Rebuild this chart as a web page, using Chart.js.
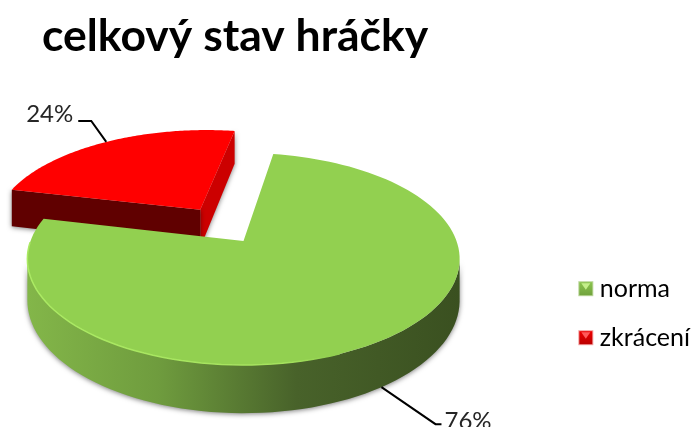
<!DOCTYPE html>
<html lang="cs">
<head>
<meta charset="utf-8">
<title>celkový stav hráčky</title>
<script src="https://cdn.jsdelivr.net/npm/chart.js@4"></script>
<style>
    html, body { margin: 0; padding: 0; background: #fff; }
    canvas { display: block; }
</style>
</head>
<body>
<canvas id="pieChart" width="692" height="427"></canvas>
<script>
// data
const categories = ['norma', 'zkrácení'];
const values = [76, 24];
const sliceColors = ['#92D050', '#FF0000'];
const titleText = 'celkový stav hráčky';

// 3D look of the pie: ground circle -> screen with a little perspective
const view = { cx: 243.5, cy: 241, a: 213, b: 102.9, k: 0.17, depth: 40 };
const explode = [0, 0.385];
// where the value label sits relative to its slice anchor, plus the elbow of the leader line
const labelPos = [
    { dx: 63, dy: 34, elbowX: 54, elbowY: 37, endX: 60 },
    { dx: -33, dy: -28, elbowX: -15, elbowY: -21, endX: -28 }
];

function project(X, Y, drop) {
    const w = 1 - view.k * Y;
    return {
        x: view.cx + view.a * X / w,
        y: view.cy + view.b * Y / w + (drop ? view.depth / w : 0)
    };
}

// point on the rim (or the hub when rim = 0) of a slice
function slicePoint(arc, i, angle, rim, drop) {
    const mid = (arc.startAngle + arc.endAngle) / 2;
    const X = rim * Math.cos(angle) + explode[i] * Math.cos(mid);
    const Y = rim * Math.sin(angle) + explode[i] * Math.sin(mid);
    return project(X, Y, drop);
}

function rimPoints(arc, i, drop) {
    const pts = [];
    const steps = 120;
    for (let s = 0; s <= steps; s++) {
        const t = arc.startAngle + (arc.endAngle - arc.startAngle) * s / steps;
        pts.push(slicePoint(arc, i, t, 1, drop));
    }
    return pts;
}

function tracePoints(ctx, pts) {
    ctx.beginPath();
    pts.forEach((p, n) => n ? ctx.lineTo(p.x, p.y) : ctx.moveTo(p.x, p.y));
    ctx.closePath();
}

function fillShape(ctx, pts, fill, shadow) {
    ctx.save();
    if (shadow) {
        ctx.shadowColor = 'rgba(0, 0, 0, 0.5)';
        ctx.shadowBlur = 5;
        ctx.shadowOffsetY = 1;
    }
    ctx.fillStyle = fill;
    tracePoints(ctx, pts);
    ctx.fill();
    ctx.restore();
}

// side wall along a radial cut of the slice
function radialWall(arc, i, angle) {
    return [
        slicePoint(arc, i, angle, 0, false),
        slicePoint(arc, i, angle, 1, false),
        slicePoint(arc, i, angle, 1, true),
        slicePoint(arc, i, angle, 0, true)
    ];
}

function drawRedSlice(ctx, arc, i) {
    const top = [slicePoint(arc, i, 0, 0, false)].concat(rimPoints(arc, i, false));
    fillShape(ctx, radialWall(arc, i, arc.endAngle), '#CC0000', true);
    fillShape(ctx, radialWall(arc, i, arc.startAngle), '#600000', true);
    fillShape(ctx, top, sliceColors[i], false);
}

function drawGreenSlice(ctx, arc, i) {
    const upper = rimPoints(arc, i, false);
    const lower = rimPoints(arc, i, true);
    // only the near half of the wall shows, and only that half throws a shadow
    const nearY = view.cy + 16;
    const nearUpper = upper.filter(p => p.y >= nearY);
    const nearLower = lower.filter((p, n) => upper[n].y >= nearY);
    const wallFill = ctx.createLinearGradient(28, 0, 461, 0);
    wallFill.addColorStop(0, '#83B649');
    wallFill.addColorStop(0.3, '#6F9C3E');
    wallFill.addColorStop(0.62, '#48622A');
    wallFill.addColorStop(1, '#3A5020');
    fillShape(ctx, nearUpper.concat(nearLower.slice().reverse()), wallFill, true);

    fillShape(ctx, [slicePoint(arc, i, 0, 0, false)].concat(upper), sliceColors[i], false);

    // light rim on the near edge
    const rimFill = ctx.createLinearGradient(28, 0, 330, 0);
    rimFill.addColorStop(0, '#ABEA63');
    rimFill.addColorStop(0.85, '#A5E25E');
    rimFill.addColorStop(1, '#92D050');
    ctx.save();
    ctx.strokeStyle = rimFill;
    ctx.lineWidth = 1.5;
    ctx.beginPath();
    upper.filter(p => p.x < 340 && p.y > 240).forEach((p, n) => n ? ctx.lineTo(p.x, p.y) : ctx.moveTo(p.x, p.y));
    ctx.stroke();
    ctx.restore();
}

// value labels with their leader lines
function drawValueLabels(chart, arcs) {
    const ctx = chart.ctx;
    const total = values.reduce((a, b) => a + b, 0);
    arcs.forEach((arc, i) => {
        const mid = (arc.startAngle + arc.endAngle) / 2;
        const anchor = slicePoint(arc, i, mid, 1, i === 0);
        const pos = labelPos[i];
        ctx.save();
        ctx.strokeStyle = '#000';
        ctx.lineWidth = 2;
        ctx.beginPath();
        ctx.moveTo(anchor.x, anchor.y);
        ctx.lineTo(anchor.x + pos.elbowX, anchor.y + pos.elbowY);
        ctx.lineTo(anchor.x + pos.endX, anchor.y + pos.elbowY);
        ctx.stroke();
        ctx.fillStyle = '#262626';
        ctx.font = '24px Lato';
        ctx.textBaseline = 'middle';
        ctx.textAlign = i === 0 ? 'left' : 'right';
        ctx.fillText(Math.round(values[i] / total * 100) + '%', anchor.x + pos.dx, anchor.y + pos.dy);
        ctx.restore();
    });
}

const pie3d = {
    id: 'pie3d',
    // replaces the flat arcs; angles still come from the arc elements
    beforeDatasetsDraw(chart) {
        const ctx = chart.ctx;
        const arcs = chart.getDatasetMeta(0).data;
        drawRedSlice(ctx, arcs[1], 1);
        drawGreenSlice(ctx, arcs[0], 0);
        drawValueLabels(chart, arcs);
        return false;
    },
    afterDraw(chart) {
        // legend squares with their bevel, the built-in box is left transparent
        const ctx = chart.ctx;
        const size = 15;
        chart.legend.legendHitBoxes.forEach((box, i) => {
            const x = box.left, y = box.top + (box.height - size) / 2;
            const fill = ctx.createLinearGradient(0, y, 0, y + size);
            fill.addColorStop(0, i === 0 ? '#8CC64E' : '#F00000');
            fill.addColorStop(1, i === 0 ? '#6FA03C' : '#B80000');
            ctx.save();
            ctx.fillStyle = i === 0 ? '#BBD69A' : '#F2A0A0';
            ctx.fillRect(x, y, size, size);
            ctx.fillStyle = fill;
            ctx.fillRect(x + 1, y + 1, size - 2, size - 2);
            ctx.fillStyle = i === 0 ? '#C4EE8A' : '#FF5A5A';
            ctx.beginPath();
            ctx.moveTo(x + 3, y + 2);
            ctx.lineTo(x + size - 3, y + 2);
            ctx.lineTo(x + size / 2, y + size / 2 + 1);
            ctx.closePath();
            ctx.fill();
            ctx.restore();
        });
    }
};

new Chart(document.getElementById('pieChart'), {
    type: 'pie',
    data: {
        labels: categories,
        datasets: [{
            data: values,
            backgroundColor: sliceColors,
            borderWidth: 0
        }]
    },
    options: {
        responsive: false,
        animation: false,
        rotation: 9.4,
        layout: { padding: { left: 42, top: 10, right: -8 } },
        plugins: {
            title: {
                display: true,
                text: titleText,
                align: 'start',
                color: '#000',
                font: { family: 'Lato', size: 44.5, weight: 'bold' },
                padding: { top: 0, bottom: 136 }
            },
            legend: {
                position: 'right',
                fullSize: false,
                labels: {
                    boxWidth: 9,
                    boxHeight: 14,
                    padding: 24,
                    color: '#262626',
                    font: { family: 'Lato', size: 25 },
                    generateLabels(chart) {
                        return categories.map((name, i) => ({
                            text: name,
                            fillStyle: 'rgba(0, 0, 0, 0)',
                            strokeStyle: 'rgba(0, 0, 0, 0)',
                            lineWidth: 0,
                            index: i
                        }));
                    }
                }
            },
            tooltip: { enabled: false }
        }
    },
    plugins: [pie3d]
});
</script>
</body>
</html>
